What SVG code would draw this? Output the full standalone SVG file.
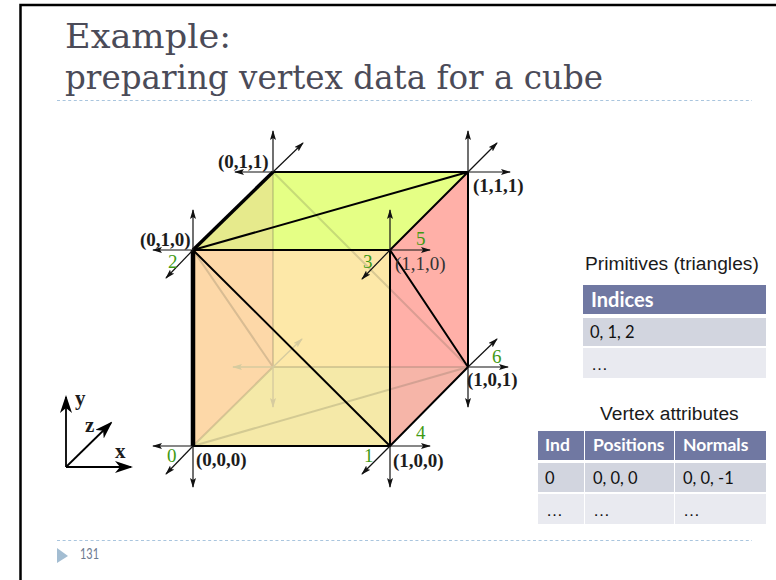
<svg xmlns="http://www.w3.org/2000/svg" width="776" height="580" viewBox="0 0 776 580">
<style>
.t{font-family:"DejaVu Serif","Liberation Serif",serif;font-size:33px;fill:#4b4b58}
.b{font-family:"Liberation Serif",serif;font-weight:bold;font-size:19px;fill:#1c1c1c}
.l{font-family:"Liberation Serif",serif;font-weight:bold;font-size:21px;fill:#1c1c1c}
.r{font-family:"Liberation Serif",serif;font-size:19px;fill:#333}
.g{font-family:"Liberation Serif",serif;font-size:19px;fill:#3f9a14}
.a{font-family:"Liberation Sans",sans-serif;font-size:19.200px;fill:#1a1a1a}
.h{font-family:Lato,sans-serif;font-weight:bold;font-size:17.500px;fill:#fff}
.c{font-family:Lato,sans-serif;font-size:16.500px;fill:#111}
.o{font-family:"Liberation Sans",sans-serif;font-size:17px;fill:#111}
.ax{stroke:#111;stroke-width:1.200;fill:none;marker-end:url(#m)}
.hax{stroke:#d6cb9f;stroke-width:1.400;fill:none;marker-end:url(#hm)}
.e{stroke:#000;stroke-width:2;fill:none}
.hid{stroke:#5a5a4a;stroke-opacity:.22;stroke-width:2;fill:none}
.d{stroke:#a9c5de;stroke-width:1;stroke-dasharray:3 2.600;fill:none}
</style>
<defs>
<marker id="m" markerWidth="10" markerHeight="7" refX="9" refY="3" orient="auto" markerUnits="userSpaceOnUse"><path d="M0 0L10 3L0 6L2 3Z" fill="#111"/></marker>
<marker id="hm" markerWidth="10" markerHeight="7" refX="9" refY="3" orient="auto" markerUnits="userSpaceOnUse"><path d="M0 0L10 3L0 6L2 3Z" fill="#d6cb9f"/></marker>
<marker id="bm" markerWidth="18" markerHeight="14" refX="16" refY="6" orient="auto" markerUnits="userSpaceOnUse"><path d="M0 0L18 6L0 12L5 6Z" fill="#000"/></marker>
</defs>
<rect width="776" height="580" fill="#fff"/>
<path d="M20.500 580V5H776" fill="none" stroke="#000" stroke-width="2.500"/>
<g id="title"><text class="t" x="65" y="48" textLength="166" lengthAdjust="spacingAndGlyphs">Example:</text><text class="t" x="65" y="89" textLength="538" lengthAdjust="spacingAndGlyphs">preparing vertex data for a cube</text></g>
<path class="d" d="M57 100.500H752"/>
<g id="cube-faces">
<polygon points="193,250 273,172 468,172 390,250" fill="#e5ff85"/>
<polygon points="193,250 273,172 273,250" fill="#e6ea8c"/>
<rect x="193" y="250" width="197" height="196" fill="#fde8a8"/>
<polygon points="193,250 273,250 273,367 193,446" fill="#fdd8a8"/>
<polygon points="193,446 273,367 390,367 390,446" fill="#f5e9a8"/>
<polygon points="390,250 468,172 468,367 390,446" fill="#ffb0a8"/>
<polygon points="390,367 468,367 390,446" fill="#f6b5a8"/>
</g>
<g id="connectors">
<path class="hid" d="M273 172V367M273 367H468M273 172L468 367M193 250L273 367M193 446L273 367M193 446L468 367"/>
<path class="hax" d="M273 367H233"/><path class="hax" d="M273 367V407"/><path class="hax" d="M273 367L302 339"/>
<path class="e" d="M273 172H468V367M193 250H390V446M193 446H390L468 367M468 172L390 250M193 250L468 172M193 250L390 446M390 250L468 367"/>
<path d="M193 250L273 172" stroke="#000" stroke-width="3.500" fill="none"/>
<path d="M193 250V446" stroke="#000" stroke-width="4.500" fill="none"/>
<path class="ax" d="M273 172V131"/><path class="ax" d="M273 172H235"/><path class="ax" d="M273 172L303 143"/>
<path class="ax" d="M193 250V210"/><path class="ax" d="M193 250H153"/><path class="ax" d="M193 250L166 278"/>
<path class="ax" d="M468 172V131"/><path class="ax" d="M468 172H510"/><path class="ax" d="M468 172L497 143"/>
<path class="ax" d="M390 250V210"/><path class="ax" d="M390 250H430"/><path class="ax" d="M390 250L362 279"/>
<path class="ax" d="M193 446H153"/><path class="ax" d="M193 446V487"/><path class="ax" d="M193 446L166 474"/>
<path class="ax" d="M390 446H430"/><path class="ax" d="M390 446V487"/><path class="ax" d="M390 446L362 474"/>
<path class="ax" d="M468 367H508"/><path class="ax" d="M468 367V407"/><path class="ax" d="M468 367L497 339"/>
</g>
<g id="v0"><text class="g" x="167" y="462">0</text><text class="b" x="196" y="466">(0,0,0)</text></g>
<g id="v1"><text class="g" x="364" y="462">1</text><text class="b" x="393" y="467">(1,0,0)</text></g>
<g id="v2"><text class="g" x="168" y="268">2</text><text class="b" x="140" y="246">(0,1,0)</text></g>
<g id="v3"><text class="g" x="363" y="268">3</text><text class="r" x="395" y="270">(1,1,0)</text></g>
<g id="v4"><text class="g" x="416" y="439">4</text></g>
<g id="v5"><text class="g" x="416" y="245">5</text></g>
<g id="v6"><text class="g" x="492" y="363">6</text><text class="b" x="467" y="386">(1,0,1)</text></g>
<g id="v7"><text class="b" x="218" y="168">(0,1,1)</text></g>
<g id="v8"><text class="b" x="473" y="192">(1,1,1)</text></g>
<g id="axes">
<path d="M66 467L111 423" stroke="#000" stroke-width="1.800" fill="none" marker-end="url(#bm)"/>
<path d="M66 467V397" stroke="#000" stroke-width="1.800" marker-end="url(#bm)"/><path d="M66 467H131" stroke="#000" stroke-width="1.800" marker-end="url(#bm)"/>
<text class="l" x="75" y="405">y</text><text class="l" x="85" y="432">z</text><text class="l" x="115" y="458">x</text>
</g>
<g id="primitives">
<text class="a" x="585" y="270">Primitives (triangles)</text>
<rect x="583" y="285" width="183" height="29" fill="#7078a2"/>
<rect x="583" y="318" width="183" height="28" fill="#d2d5df"/>
<rect x="583" y="348" width="183" height="30" fill="#e9eaf0"/>
<text class="h" style="font-size:20px" x="591" y="307">Indices</text><text class="c" x="590" y="338">0, 1, 2</text><text class="o" x="591" y="370">…</text>
</g>
<g id="attributes">
<text class="a" x="600" y="420">Vertex attributes</text>
<rect x="538" y="431" width="46" height="29" fill="#7078a2"/><rect x="585" y="431" width="89" height="29" fill="#7078a2"/><rect x="675" y="431" width="91" height="29" fill="#7078a2"/>
<rect x="538" y="463" width="46" height="29" fill="#d2d5df"/><rect x="585" y="463" width="89" height="29" fill="#d2d5df"/><rect x="675" y="463" width="91" height="29" fill="#d2d5df"/>
<rect x="538" y="494" width="46" height="30" fill="#e9eaf0"/><rect x="585" y="494" width="89" height="30" fill="#e9eaf0"/><rect x="675" y="494" width="91" height="30" fill="#e9eaf0"/>
<text class="h" x="545" y="451">Ind</text><text class="h" x="593" y="451">Positions</text><text class="h" x="683" y="451">Normals</text>
<text class="c" x="545" y="484">0</text><text class="c" x="593" y="484">0, 0, 0</text><text class="c" x="683" y="484">0, 0, -1</text>
<text class="o" x="546" y="516">…</text><text class="o" x="593" y="516">…</text><text class="o" x="683" y="516">…</text>
</g>
<g id="footer">
<path class="d" d="M57 540.500H752"/>
<polygon points="57,548 68,556 57,563" fill="#a3bdd2"/>
<text x="80" y="559" font-family="Lato,sans-serif" font-size="15" fill="#6b7a90" textLength="19" lengthAdjust="spacingAndGlyphs">131</text>
</g>
</svg>
